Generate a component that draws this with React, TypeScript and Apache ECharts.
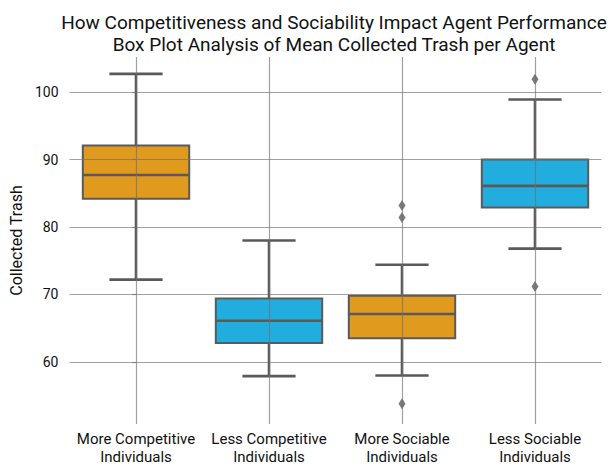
import React, { useEffect, useRef } from 'react';
import * as echarts from 'echarts';

const categories = [
  'More Competitive\nIndividuals',
  'Less Competitive\nIndividuals',
  'More Sociable\nIndividuals',
  'Less Sociable\nIndividuals',
];
const whiskerLow = [72.2, 57.9, 58.0, 76.8];
const q1 = [84.2, 62.8, 63.5, 82.9];
const median = [87.7, 66.1, 67.1, 86.1];
const q3 = [92.1, 69.4, 69.8, 90.0];
const whiskerHigh = [102.7, 78.0, 74.4, 98.9];
const outliers: [number, number][] = [
  [2, 83.2],
  [2, 81.4],
  [2, 53.8],
  [3, 101.9],
  [3, 71.2],
];
const yTicks = [60, 70, 80, 90, 100];
const xTicks = [0, 1, 2, 3];
const boxColors = ['#E09B1F', '#21AEDE', '#E09B1F', '#21AEDE'];

const EDGE = '#5a5a5a';
const FONT = 'Roboto';
const GRIDC = 'rgba(110,110,110,0.65)';

export default function App() {
  const ref = useRef<HTMLDivElement>(null);
  useEffect(() => {
    const chart = echarts.init(ref.current!, null, { renderer: 'svg' });
    const boxData = categories.map((_, i) => [i, whiskerLow[i], q1[i], median[i], q3[i], whiskerHigh[i]]);
    chart.setOption({
      animation: false,
      title: {
        text: 'How Competitiveness and Sociability Impact Agent Performance\nBox Plot Analysis of Mean Collected Trash per Agent',
        left: 329,
        top: 6,
        textAlign: 'center',
        textStyle: { fontFamily: FONT, fontSize: 19, fontWeight: 'normal', color: '#111', lineHeight: 22 },
      },
      grid: { left: 69.5, right: 13.5, top: 57, bottom: 34, containLabel: false },
      xAxis: {
        type: 'value',
        min: -0.5,
        max: 3.5,
        z: 10,
        axisLine: { show: false },
        axisTick: { show: false, customValues: xTicks },
        axisLabel: {
          customValues: xTicks,
          formatter: (v: number) => categories[Math.round(v)],
          fontFamily: FONT,
          fontSize: 15,
          lineHeight: 18,
          color: '#111',
          margin: 6,
        },
        splitLine: { show: true, lineStyle: { color: GRIDC, width: 1.2 } },
      },
      yAxis: {
        type: 'value',
        min: 50.8,
        max: 105.2,
        z: 10,
        name: 'Collected Trash',
        nameLocation: 'middle',
        nameGap: 45,
        nameTextStyle: { fontFamily: FONT, fontSize: 16, color: '#111' },
        axisLine: { show: false },
        axisTick: { show: true, length: 4, customValues: yTicks, lineStyle: { color: GRIDC, width: 1.2 } },
        axisLabel: { customValues: yTicks, fontFamily: FONT, fontSize: 14, color: '#111', margin: 11 },
        splitLine: { show: true, lineStyle: { color: GRIDC, width: 1.2 } },
      },
      series: [
        {
          type: 'custom',
          z: 2,
          data: boxData,
          encode: { x: 0, y: [1, 2, 3, 4, 5] },
          renderItem: (params: any, api: any) => {
            const i = api.value(0);
            const lo = api.coord([i, api.value(1)]);
            const b1 = api.coord([i, api.value(2)]);
            const md = api.coord([i, api.value(3)]);
            const b3 = api.coord([i, api.value(4)]);
            const hi = api.coord([i, api.value(5)]);
            const band = api.size([1, 0])[0];
            const bw = band * 0.8;
            const cw = bw * 0.5;
            const x = lo[0];
            const ls = { stroke: EDGE, lineWidth: 2.6 };
            return {
              type: 'group',
              children: [
                { type: 'line', shape: { x1: x, y1: lo[1], x2: x, y2: b1[1] }, style: ls },
                { type: 'line', shape: { x1: x, y1: b3[1], x2: x, y2: hi[1] }, style: ls },
                { type: 'line', shape: { x1: x - cw / 2, y1: lo[1], x2: x + cw / 2, y2: lo[1] }, style: ls },
                { type: 'line', shape: { x1: x - cw / 2, y1: hi[1], x2: x + cw / 2, y2: hi[1] }, style: ls },
                {
                  type: 'rect',
                  shape: { x: x - bw / 2, y: b3[1], width: bw, height: b1[1] - b3[1] },
                  style: { fill: boxColors[i], stroke: EDGE, lineWidth: 2 },
                },
                { type: 'line', shape: { x1: x - bw / 2, y1: md[1], x2: x + bw / 2, y2: md[1] }, style: ls },
              ],
            };
          },
        },
        {
          type: 'scatter',
          z: 3,
          data: outliers,
          symbol: 'diamond',
          symbolSize: [7, 11],
          itemStyle: { color: EDGE },
        },
      ],
    });
    return () => chart.dispose();
  }, []);
  return <div ref={ref} style={{ position: 'fixed', left: 0, top: 0, width: 615, height: 466, background: '#fff' }} />;
}
